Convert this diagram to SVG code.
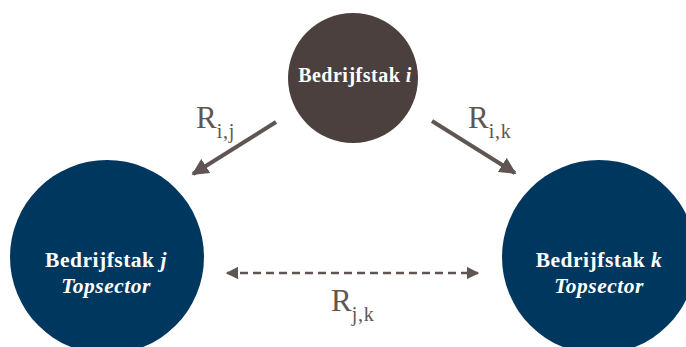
<svg xmlns="http://www.w3.org/2000/svg" width="686" height="347" viewBox="0 0 686 347">
  <defs>
    <marker id="head" viewBox="0 0 10 10" refX="9" refY="5" markerWidth="4.2" markerHeight="4.2" orient="auto-start-reverse" markerUnits="strokeWidth">
      <path d="M0,0 L10,5 L0,10 z" fill="#5f5552"/>
    </marker>
    <marker id="headSmall" viewBox="0 0 10 10" refX="9" refY="5" markerWidth="5" markerHeight="5" orient="auto-start-reverse" markerUnits="strokeWidth">
      <path d="M0,0 L10,5 L0,10 z" fill="#5f5552"/>
    </marker>
  </defs>
  <style>
    .node-text { font-family: "Liberation Serif", "Times New Roman", serif; font-weight: bold; fill: #ffffff; text-anchor: middle; letter-spacing: 0.5px; }
    .label { font-family: "Liberation Serif", "Times New Roman", serif; fill: #5f5552; }
    .sub { font-size: 20px; letter-spacing: 0.8px; }
    .solid { stroke: #5f5552; stroke-width: 4; fill: none; }
    .dashed { stroke: #5f5552; stroke-width: 2.5; stroke-dasharray: 8 5; fill: none; }
  </style>
  <rect width="686" height="347" fill="#ffffff"/>

  <g id="node-i">
    <circle cx="353" cy="78" r="65" fill="#4b403e"/>
    <text class="node-text" x="355" y="82" font-size="20" letter-spacing="0.7">Bedrijfstak <tspan font-style="italic">i</tspan></text>
  </g>

  <g id="node-j">
    <circle cx="107" cy="257" r="97" fill="#00375f"/>
    <text class="node-text" x="106" y="267" font-size="21.5">Bedrijfstak <tspan font-style="italic">j</tspan></text>
    <text class="node-text" x="106" y="293" font-size="21.5" font-style="italic">Topsector</text>
  </g>

  <g id="node-k">
    <circle cx="599" cy="257" r="97" fill="#00375f"/>
    <text class="node-text" x="599" y="267" font-size="21.5">Bedrijfstak <tspan font-style="italic">k</tspan></text>
    <text class="node-text" x="599" y="293" font-size="21.5" font-style="italic">Topsector</text>
  </g>

  <g id="connectors">
    <line class="solid" x1="276" y1="122" x2="193" y2="174" marker-end="url(#head)"/>
    <line class="solid" x1="432" y1="121" x2="515" y2="173" marker-end="url(#head)"/>
    <line class="dashed" x1="227" y1="273" x2="478" y2="273" marker-start="url(#headSmall)" marker-end="url(#headSmall)"/>
    <text class="label" x="196" y="128" font-size="31">R<tspan class="sub" dy="10">i,j</tspan></text>
    <text class="label" x="468" y="128" font-size="31">R<tspan class="sub" dy="10">i,k</tspan></text>
    <text class="label" x="331" y="311" font-size="31">R<tspan class="sub" dy="10">j,k</tspan></text>
  </g>
</svg>
